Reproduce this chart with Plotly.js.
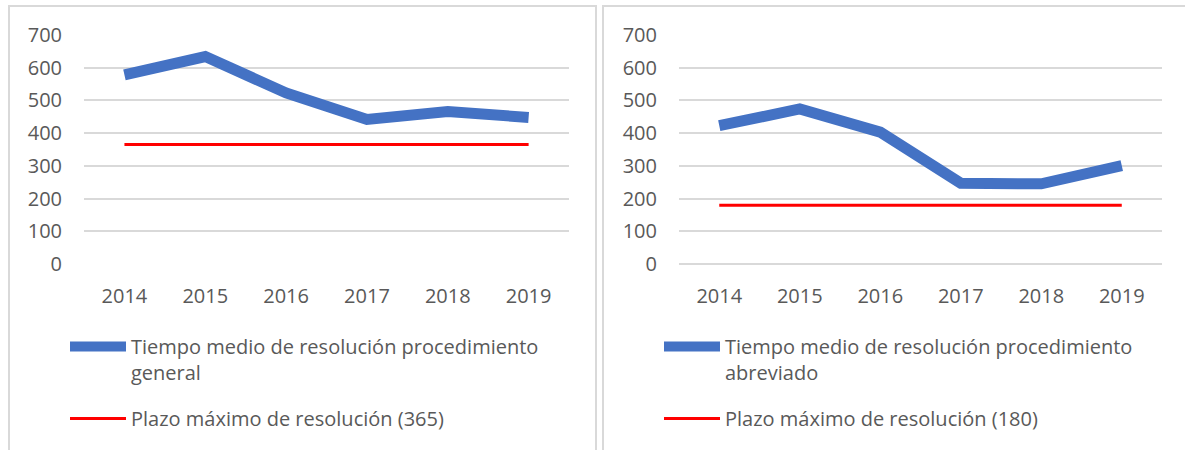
<!DOCTYPE html>
<html>
<head>
<meta charset="utf-8">
<script src="https://cdn.plot.ly/plotly-3.0.1.min.js"></script>
<style>html,body{margin:0;padding:0;background:#fff;}#chart{width:1185px;height:450px;}</style>
</head>
<body>
<div id="chart"></div>
<script>
const years = ["2014", "2015", "2016", "2017", "2018", "2019"];
const generalTime = [578, 634, 523, 442, 466, 448];
const generalLimit = [365, 365, 365, 365, 365, 365];
const shortTime = [423, 474, 403, 247, 245, 301];
const shortLimit = [180, 180, 180, 180, 180, 180];
const yTicks = [0, 100, 200, 300, 400, 500, 600, 700];

const names = {
  general: "Tiempo medio de resolución procedimiento<br>general",
  generalLimit: "Plazo máximo de resolución (365)",
  short: "Tiempo medio de resolución procedimiento<br>abreviado",
  shortLimit: "Plazo máximo de resolución (180)"
};

const BLUE = "#4472C4";
const RED = "#FF0000";
const GRID = "#D9D9D9";
const TXT = "#595959";
const FONT = "Open Sans, Noto Sans, sans-serif";

const traces = [
  {x: years, y: generalTime, name: names.general, type: "scatter", mode: "lines",
   line: {color: BLUE, width: 11}, xaxis: "x", yaxis: "y", legend: "legend"},
  {x: years, y: generalLimit, name: names.generalLimit, type: "scatter", mode: "lines",
   line: {color: RED, width: 3}, xaxis: "x", yaxis: "y", legend: "legend2"},
  {x: years, y: shortTime, name: names.short, type: "scatter", mode: "lines",
   line: {color: BLUE, width: 11}, xaxis: "x2", yaxis: "y2", legend: "legend3"},
  {x: years, y: shortLimit, name: names.shortLimit, type: "scatter", mode: "lines",
   line: {color: RED, width: 3}, xaxis: "x2", yaxis: "y2", legend: "legend4"}
];

function xAxis(domain, anchor) {
  return {
    domain: domain, anchor: anchor, type: "category", range: [-0.5, 5.5],
    showgrid: false, zeroline: false, showline: false,
    ticks: "outside", ticklen: 14, tickcolor: "rgba(0,0,0,0)",
    tickfont: {family: FONT, size: 20, color: TXT}, fixedrange: true
  };
}
function yAxis(anchor, zeroColor) {
  return {
    domain: [0.4133, 0.9222], anchor: anchor, range: [0, 700],
    tickvals: yTicks, ticktext: yTicks.map(String),
    showgrid: true, gridcolor: GRID, gridwidth: 2,
    zeroline: true, zerolinecolor: zeroColor, zerolinewidth: 2,
    showline: false, ticks: "outside", ticklen: 17, tickcolor: "rgba(0,0,0,0)",
    tickfont: {family: FONT, size: 20, color: TXT}, fixedrange: true
  };
}
function legendAt(xPx, yPx) {
  return {
    x: xPx / 1185, y: 1 - yPx / 450, xanchor: "left", yanchor: "top",
    xref: "paper", yref: "paper", bgcolor: "rgba(0,0,0,0)", borderwidth: 0,
    itemwidth: 56, valign: "top", font: {family: FONT, size: 20, color: TXT},
    itemclick: false, itemdoubleclick: false
  };
}

const layout = {
  width: 1185, height: 450,
  margin: {l: 0, r: 0, t: 0, b: 0},
  paper_bgcolor: "#FFFFFF", plot_bgcolor: "#FFFFFF",
  font: {family: FONT, color: TXT},
  showlegend: true,
  xaxis: xAxis([0.0709, 0.4802], "y"),
  yaxis: yAxis("x", "rgba(255,255,255,0)"),
  xaxis2: xAxis([0.573, 0.9806], "y2"),
  yaxis2: yAxis("x2", GRID),
  legend: legendAt(65, 327),
  legend2: legendAt(65, 399),
  legend3: legendAt(659, 327),
  legend4: legendAt(659, 399),
  shapes: [
    {type: "rect", xref: "paper", yref: "paper", x0: 9 / 1185, x1: 596 / 1185, y0: -0.2, y1: 1 - 6 / 450,
     line: {color: GRID, width: 2}, fillcolor: "rgba(0,0,0,0)", layer: "below"},
    {type: "rect", xref: "paper", yref: "paper", x0: 603 / 1185, x1: 1.02, y0: -0.2, y1: 1 - 6 / 450,
     line: {color: GRID, width: 2}, fillcolor: "rgba(0,0,0,0)", layer: "below"}
  ]
};

Plotly.newPlot("chart", traces, layout, {displayModeBar: false, staticPlot: true});
</script>
</body>
</html>
